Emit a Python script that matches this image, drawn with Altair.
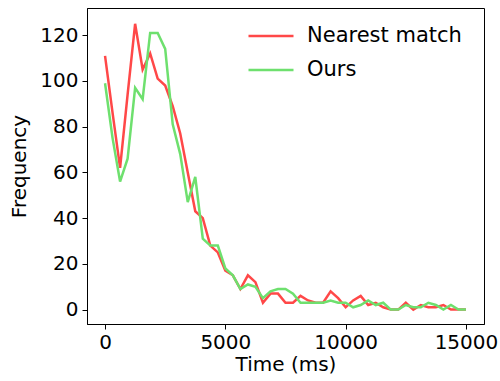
import altair as alt
import pandas as pd

time_ms = [0, 312.5, 625, 937.5, 1250, 1562.5, 1875, 2187.5, 2500, 2812.5,
           3125, 3437.5, 3750, 4062.5, 4375, 4687.5, 5000, 5312.5, 5625, 5937.5,
           6250, 6562.5, 6875, 7187.5, 7500, 7812.5, 8125, 8437.5, 8750, 9062.5,
           9375, 9687.5, 10000, 10312.5, 10625, 10937.5, 11250, 11562.5, 11875, 12187.5,
           12500, 12812.5, 13125, 13437.5, 13750, 14062.5, 14375, 14687.5, 15000]

nearest = [111, 86, 62, 94, 125, 105, 112, 101, 98, 89,
           77, 60, 43, 40, 28, 25, 17, 15, 9, 15,
           12, 3, 7, 7, 3, 3, 6, 4, 3, 3,
           8, 5, 1, 4, 6, 2, 3, 1, 0, 0,
           3, 0, 2, 1, 1, 2, 0, 0, 0]

ours = [99, 75, 56, 66, 97, 92, 121, 121, 114, 81,
        68, 47, 58, 31, 28, 28, 18, 15, 9, 11,
        10, 5, 8, 9, 9, 7, 3, 3, 3, 3,
        4, 3, 3, 1, 2, 4, 2, 3, 0, 0,
        2, 1, 1, 3, 2, 0, 2, 0, 0]

series_names = ["Nearest match", "Ours"]
series_colors = ["#ff4848", "#6ee06e"]
x_ticks = [0, 5000, 10000, 15000]
y_ticks = [0, 20, 40, 60, 80, 100, 120]

rows = []
for name, vals in zip(series_names, [nearest, ours]):
    for t, v in zip(time_ms, vals):
        rows.append({"time": t, "freq": v, "series": name})
df = pd.DataFrame(rows)

chart = alt.Chart(df).mark_line(strokeWidth=2.5).encode(
    x=alt.X("time:Q",
            scale=alt.Scale(domain=[-750, 15750], nice=False, zero=False),
            axis=alt.Axis(values=x_ticks, title="Time (ms)", format="d",
                          labelPadding=3, titlePadding=2)),
    y=alt.Y("freq:Q",
            scale=alt.Scale(domain=[-6.3, 131.9], nice=False, zero=False),
            axis=alt.Axis(values=y_ticks, title="Frequency", labelPadding=4,
                          titlePadding=10)),
    color=alt.Color("series:N",
                    scale=alt.Scale(domain=series_names, range=series_colors),
                    legend=alt.Legend(title=None, orient="none", legendX=160, legendY=4,
                                      symbolType="stroke", symbolSize=2025,
                                      symbolStrokeWidth=2.5, labelFontSize=21,
                                      labelFont="DejaVu Sans", labelColor="black",
                                      labelOffset=12, rowPadding=-18.5, padding=0)),
).properties(
    width=397, height=316,
    autosize=alt.AutoSizeParams(type="none"),
    padding={"left": 87, "top": 8, "right": 16, "bottom": 57},
).configure_view(
    stroke="black", strokeWidth=1
).configure_axis(
    grid=False, domainColor="black", tickColor="black", tickSize=5,
    labelFont="DejaVu Sans", labelFontSize=20, labelColor="black",
    titleFont="DejaVu Sans", titleFontSize=20, titleFontWeight="normal",
    titleColor="black",
)

chart.save("out.html", embed_options={"renderer": "svg", "actions": False})
